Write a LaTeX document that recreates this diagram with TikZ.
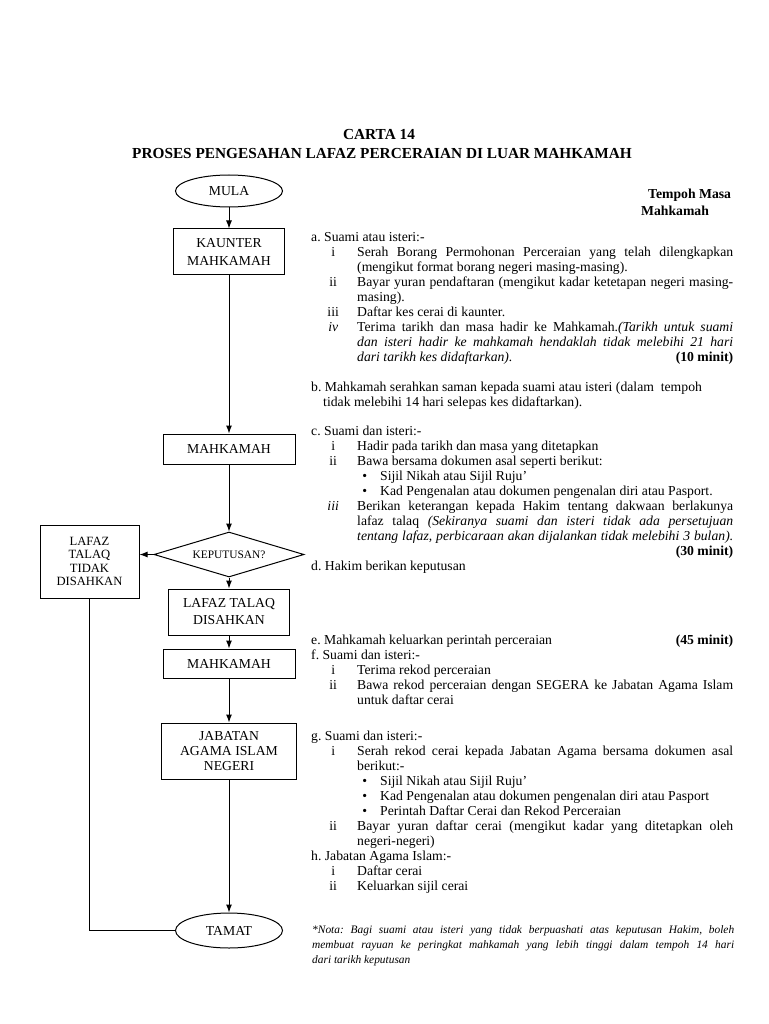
\documentclass[tikz,border=0pt]{standalone}
\usepackage{fontspec}
\setmainfont{Liberation Serif}
\usetikzlibrary{shapes.geometric,arrows.meta}

\tolerance=10000
\hbadness=10000
\hyphenpenalty=10000
\frenchspacing

% heading line, roman item, bullet item
\newcommand{\hdr}[1]{\noindent #1\par}
\newcommand{\romitem}[2]{\par{\leftskip=46pt\noindent\llap{\makebox[16pt]{#1}\hspace{16pt}}#2\par}}
\newcommand{\bulitem}[1]{\par{\leftskip=69pt\noindent\llap{\textbullet\hspace{13pt}}#1\par}}

\tikzset{
  box/.style={draw, line width=1pt, inner sep=0pt, align=center,
    font=\fontsize{13.7}{15.5}\selectfont},
  term/.style={box, ellipse},
  txt/.style={anchor=base west, inner sep=0pt, text width=422pt, align=justify,
    font=\fontsize{13.7}{15}\selectfont},
  title/.style={anchor=base, inner sep=0pt, font=\fontsize{15.3}{18}\selectfont\bfseries}
}

\begin{document}
\begin{tikzpicture}[x=1pt,y=-1pt]
\useasboundingbox (0,0) rectangle (768,1024);

% title
\node[title] (carta) at (379,140) {CARTA 14};
\node[title] (proses) at (382,159) {PROSES PENGESAHAN LAFAZ PERCERAIAN DI LUAR MAHKAMAH};

% flow chart
\node[term, minimum width=107pt, minimum height=32pt] (mula) at (229,191) {MULA};
\node[box, minimum width=111pt, minimum height=45pt, font=\fontsize{13.7}{18}\selectfont] (kaunter) at (229,251.5) {KAUNTER\\MAHKAMAH};
\node[box, minimum width=132pt, minimum height=30pt] (mah1) at (229,449) {MAHKAMAH};
\node[box, diamond, aspect=3.3, minimum width=150pt, minimum height=45pt, font=\fontsize{11.4}{13}\selectfont] (kep) at (229,554.5) {KEPUTUSAN?};
\node[box, minimum width=99pt, minimum height=73pt, font=\fontsize{12.6}{13.5}\selectfont] (tidak) at (89.5,561.5) {LAFAZ\\TALAQ\\TIDAK\\DISAHKAN};
\node[box, minimum width=121pt, minimum height=46pt, font=\fontsize{13.7}{17}\selectfont] (sah) at (229,612) {LAFAZ TALAQ\\DISAHKAN};
\node[box, minimum width=132pt, minimum height=29pt] (mah2) at (229,663.5) {MAHKAMAH};
\node[box, minimum width=135pt, minimum height=56pt, font=\fontsize{13.7}{15}\selectfont] (jab) at (229,751) {JABATAN\\AGAMA ISLAM\\NEGERI};
\node[term, minimum width=107pt, minimum height=35pt] (tamat) at (229,930.5) {TAMAT};

\begin{scope}[line width=1pt, >={Latex[length=8pt,width=6pt]}]
    \path [->] (mula) edge (kaunter);
    \path [->] (kaunter) edge (mah1);
    \path [->] (mah1) edge (kep);
    \path [->] (kep) edge (sah);
    \path [->] (kep.west) edge (kep.west -| tidak.east);
    \path [->] (sah) edge (mah2);
    \path [->] (mah2) edge (jab);
    \path [->] (jab) edge (tamat);
    \draw (tidak.south) |- (tamat.west);
\end{scope}

% time column heading
\node[anchor=base west, inner sep=0pt, font=\fontsize{13.7}{15}\selectfont\bfseries] (tempoh) at (648,199) {Tempoh Masa};
\node[anchor=base west, inner sep=0pt, font=\fontsize{13.7}{15}\selectfont\bfseries] (tmah) at (641,215) {Mahkamah};

% steps
\node[txt] (blka) at (311,241) {%
\hdr{a. Suami atau isteri:-}
\romitem{i}{Serah Borang Permohonan Perceraian yang telah dilengkapkan\linebreak (mengikut format borang negeri masing-masing).}
\romitem{ii}{Bayar yuran pendaftaran (mengikut kadar ketetapan negeri masing-\linebreak masing).}
\romitem{iii}{Daftar kes cerai di kaunter.}
\romitem{\textit{iv}}{Terima tarikh dan masa hadir ke Mahkamah.\textit{(Tarikh untuk suami\linebreak dan isteri hadir ke mahkamah hendaklah tidak melebihi 21 hari\linebreak dari tarikh kes didaftarkan).}\hfill\textbf{(10 minit)}}};

\node[txt] (blkb) at (311,391) {%
\hdr{b. Mahkamah serahkan saman kepada suami atau isteri (dalam\ \ tempoh}
{\leftskip=12pt\noindent tidak melebihi 14 hari selepas kes didaftarkan).\par}};

\node[txt] (blkc) at (311,435) {%
\hdr{c. Suami dan isteri:-}
\romitem{i}{Hadir pada tarikh dan masa yang ditetapkan}
\romitem{ii}{Bawa bersama dokumen asal seperti berikut:}
\bulitem{Sijil Nikah atau Sijil Ruju’}
\bulitem{Kad Pengenalan atau dokumen pengenalan diri atau Pasport.}
\romitem{\textit{iii}}{Berikan keterangan kepada Hakim tentang dakwaan berlakunya\linebreak lafaz talaq \textit{(Sekiranya suami dan isteri tidak ada persetujuan\linebreak tentang lafaz, perbicaraan akan dijalankan tidak melebihi 3 bulan).}\linebreak\hspace*{\fill}\textbf{(30 minit)}}
\hdr{d. Hakim berikan keputusan}};

\node[txt] (blke) at (311,644) {%
\hdr{e. Mahkamah keluarkan perintah perceraian\hfill\textbf{(45 minit)}}
\hdr{f. Suami dan isteri:-}
\romitem{i}{Terima rekod perceraian}
\romitem{ii}{Bawa rekod perceraian dengan SEGERA ke Jabatan Agama Islam\linebreak untuk daftar cerai}};

\node[txt] (blkg) at (311,740) {%
\hdr{g. Suami dan isteri:-}
\romitem{i}{Serah rekod cerai kepada Jabatan Agama bersama dokumen asal\linebreak berikut:-}
\bulitem{Sijil Nikah atau Sijil Ruju’}
\bulitem{Kad Pengenalan atau dokumen pengenalan diri atau Pasport}
\bulitem{Perintah Daftar Cerai dan Rekod Perceraian}
\romitem{ii}{Bayar yuran daftar cerai (mengikut kadar yang ditetapkan oleh\linebreak negeri-negeri)}
\hdr{h. Jabatan Agama Islam:-}
\romitem{i}{Daftar cerai}
\romitem{ii}{Keluarkan sijil cerai}};

% note
\node[txt, font=\fontsize{11.4}{15}\selectfont\itshape] (nota) at (312,933) {%
*Nota: Bagi suami atau isteri yang tidak berpuashati atas keputusan Hakim, boleh\linebreak membuat rayuan ke peringkat mahkamah yang lebih tinggi dalam tempoh 14 hari\linebreak dari tarikh keputusan};

\end{tikzpicture}
\end{document}
